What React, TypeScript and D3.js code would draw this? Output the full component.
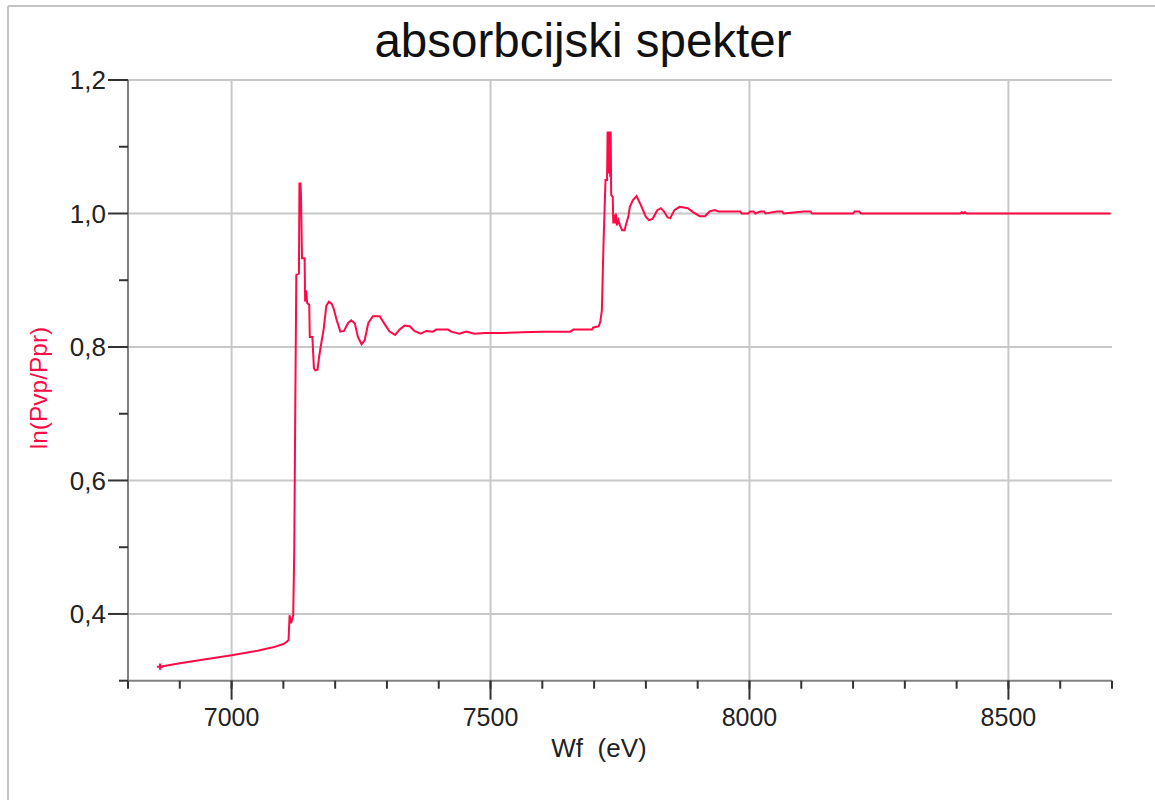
import React from "react";
import * as d3 from "d3";

const energy = [
  6862, 6900, 6950, 7000, 7050, 7080, 7100, 7106, 7110, 7112, 7115, 7119, 7121, 7123, 7125, 7130,
  7131, 7133, 7134, 7136, 7141, 7142, 7144, 7146, 7150, 7151, 7156, 7159, 7162, 7166, 7169, 7172,
  7178, 7183, 7188, 7193, 7197, 7203, 7210, 7217, 7225, 7231, 7238, 7244, 7251, 7257, 7264, 7273,
  7286, 7295, 7305, 7316, 7324, 7334, 7344, 7353, 7365, 7376, 7389, 7395, 7418, 7424, 7440, 7453,
  7469, 7489, 7521, 7560, 7600, 7654, 7660, 7696, 7698, 7709, 7712, 7715, 7718, 7722, 7725, 7726,
  7727, 7728, 7729, 7730, 7731, 7732, 7733, 7736, 7737, 7739, 7741, 7742, 7744, 7747, 7750, 7754,
  7759, 7762, 7766, 7769, 7775, 7782, 7790, 7800, 7806, 7813, 7822, 7829, 7835, 7842, 7847, 7855,
  7865, 7881, 7891, 7904, 7914, 7923, 7933, 7940, 7982, 7985, 7998, 8001, 8008, 8011, 8021, 8028,
  8031, 8053, 8063, 8066, 8105, 8118, 8121, 8200, 8203, 8212, 8215, 8407, 8410, 8413, 8416, 8419,
  8697,
];

const absorbance = [
  0.321, 0.326, 0.332, 0.338, 0.345, 0.35, 0.355, 0.358, 0.361, 0.398, 0.386, 0.398, 0.493, 0.71, 0.908, 0.91,
  1.045, 1.045, 1.028, 0.933, 0.933, 0.868, 0.885, 0.866, 0.863, 0.815, 0.815, 0.768, 0.765, 0.766, 0.785, 0.8,
  0.828, 0.862, 0.868, 0.865, 0.858, 0.84, 0.823, 0.824, 0.836, 0.84, 0.835, 0.815, 0.804, 0.81, 0.836, 0.846,
  0.846, 0.835, 0.823, 0.818, 0.826, 0.832, 0.831, 0.824, 0.82, 0.824, 0.823, 0.826, 0.826, 0.823, 0.82, 0.823,
  0.82, 0.821, 0.821, 0.822, 0.823, 0.823, 0.826, 0.826, 0.829, 0.831, 0.838, 0.855, 0.95, 1.05, 1.05, 1.123,
  1.06, 1.123, 1.07, 1.123, 1.055, 1.123, 1.028, 1.025, 0.985, 0.998, 0.985, 1.0, 0.982, 0.99, 0.982, 0.975,
  0.975, 0.985, 0.995, 1.01, 1.02, 1.026, 1.013, 0.995, 0.99, 0.992, 1.005, 1.008, 1.003, 0.994, 0.993, 1.005,
  1.01, 1.008, 1.002, 0.996, 0.996, 1.003, 1.005, 1.003, 1.003, 1.0, 1.0, 1.003, 1.003, 1.0, 1.003, 1.003,
  1.0, 1.003, 1.003, 1.0, 1.003, 1.003, 1.0, 1.0, 1.003, 1.003, 1.0, 1.0, 1.002, 1.0, 1.002, 1.0,
  1.0,
];

const xMajorTicks = [7000, 7500, 8000, 8500];
const xMinorTicks = d3.range(6800, 8701, 100);
const yMajorTicks = [0.4, 0.6, 0.8, 1.0, 1.2];
const yMinorTicks = [0.3, 0.5, 0.7, 0.9, 1.1];

const title = "absorbcijski spekter";
const xLabel = "Wf  (eV)";
const yLabel = "ln(Pvp/Ppr)";

const RED = "#ff0a46";
const FONT = "'Liberation Sans', Arial, sans-serif";

export default function App() {
  const x = d3.scaleLinear().domain([6800, 8700]).range([128, 1112]);
  const y = d3.scaleLinear().domain([0.3, 1.2]).range([680.7, 80]);
  const fmt = (v: number) => v.toFixed(1).replace(".", ",");

  const pts: [number, number][] = energy.map((e, i) => [e, absorbance[i]]);
  const line = d3
    .line<[number, number]>()
    .x((d) => x(d[0]))
    .y((d) => y(d[1]));

  const marker = d3.symbol(d3.symbolCross, 22)();

  const [x0, x1] = x.range();
  const [yb, yt] = y.range();

  return (
    <svg
      width={1155}
      height={800}
      style={{ position: "absolute", left: 0, top: 0, background: "#fff" }}
    >
      <rect x={0} y={0} width={1155} height={800} fill="#fff" />
      {/* frame */}
      <line x1={8} y1={6} x2={1155} y2={6} stroke="#c4c4c4" strokeWidth={2} />
      <line x1={8} y1={6} x2={8} y2={800} stroke="#c4c4c4" strokeWidth={2} />

      {/* title */}
      <text x={583} y={57} textAnchor="middle" fontFamily={FONT} fontSize={47.5} fill="#111">
        {title}
      </text>

      {/* grid */}
      {yMajorTicks.map((t) => (
        <line key={"gy" + t} x1={x0} x2={x1} y1={y(t)} y2={y(t)} stroke="#c8c8c8" strokeWidth={2} />
      ))}
      {xMajorTicks.map((t) => (
        <line key={"gx" + t} x1={x(t)} x2={x(t)} y1={yt} y2={yb} stroke="#c8c8c8" strokeWidth={2} />
      ))}

      {/* axes */}
      <line x1={x0} x2={x0} y1={yt} y2={yb} stroke="#808080" strokeWidth={2} />
      <line x1={x0} x2={x1} y1={yb} y2={yb} stroke="#808080" strokeWidth={2} />

      {/* y ticks */}
      {yMajorTicks.map((t) => (
        <g key={"ty" + t}>
          <line x1={108} x2={x0} y1={y(t)} y2={y(t)} stroke="#333" strokeWidth={2} />
          <text
            x={106}
            y={y(t)}
            dy="0.36em"
            textAnchor="end"
            fontFamily={FONT}
            fontSize={26}
            fill="#222"
          >
            {fmt(t)}
          </text>
        </g>
      ))}
      {yMinorTicks.map((t) => (
        <line key={"my" + t} x1={119} x2={x0} y1={y(t)} y2={y(t)} stroke="#333" strokeWidth={2} />
      ))}

      {/* x ticks */}
      {xMinorTicks.map((t) => (
        <line key={"mx" + t} x1={x(t)} x2={x(t)} y1={yb} y2={yb + 8} stroke="#333" strokeWidth={2} />
      ))}
      {xMajorTicks.map((t) => (
        <g key={"tx" + t}>
          <line x1={x(t)} x2={x(t)} y1={yb} y2={yb + 19} stroke="#333" strokeWidth={2} />
          <text x={x(t)} y={726} textAnchor="middle" fontFamily={FONT} fontSize={25} fill="#222">
            {t}
          </text>
        </g>
      ))}

      {/* axis labels */}
      <text
        x={599}
        y={757}
        textAnchor="middle"
        fontFamily={FONT}
        fontSize={26}
        fill="#222"
        style={{ whiteSpace: "pre" }}
      >
        {xLabel}
      </text>
      <text
        transform={`translate(47,388) rotate(-90)`}
        textAnchor="middle"
        fontFamily={FONT}
        fontSize={24.5}
        fill={RED}
      >
        {yLabel}
      </text>

      {/* data */}
      <path d={line(pts) || ""} fill="none" stroke={RED} strokeWidth={2} strokeLinejoin="miter" />
      <path
        d={marker || ""}
        transform={`translate(${x(energy[0])},${y(absorbance[0])})`}
        fill={RED}
      />
    </svg>
  );
}
